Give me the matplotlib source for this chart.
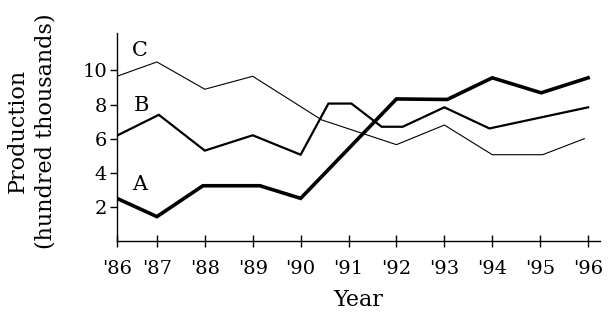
import numpy as np
import matplotlib
matplotlib.use("Agg")
import matplotlib.pyplot as plt

# year axis: '86 .. '96
years = [86, 87, 88, 89, 90, 91, 92, 93, 94, 95, 96]
year_labels = ["'86", "'87", "'88", "'89", "'90", "'91", "'92", "'93", "'94", "'95", "'96"]
y_ticks = [2, 4, 6, 8, 10]

# series (x in years, y in hundred thousands)
a_x = [86, 87, 87.96, 89.15, 90, 92, 93.06, 94, 95.02, 96]
a_y = [2.5, 1.43, 3.24, 3.24, 2.5, 8.33, 8.3, 9.57, 8.69, 9.57]

b_x = [86, 87.04, 88, 89, 90, 90.58, 91.06, 91.69, 92.13, 93, 93.94, 96]
b_y = [6.18, 7.4, 5.3, 6.2, 5.06, 8.06, 8.06, 6.7, 6.7, 7.84, 6.6, 7.84]

c_x = [86, 87, 88, 89, 90.44, 92, 93, 94, 95.05, 95.92]
c_y = [9.66, 10.5, 8.9, 9.66, 7.1, 5.65, 6.8, 5.06, 5.06, 6.0]

serif = "DejaVu Serif"
plt.rcParams["font.family"] = serif

fig = plt.figure(figsize=(6.08, 3.14), dpi=100)
ax = fig.add_axes([0.1924, 0.2325, 0.7946, 0.6625])

# the first year interval is drawn a bit shorter than the others
def fwd(x):
    x = np.asarray(x, dtype=float)
    return np.where(x < 87, 87 - (87 - x) * 40 / 48, x)

def inv(x):
    x = np.asarray(x, dtype=float)
    return np.where(x < 87, 87 - (87 - x) * 48 / 40, x)

ax.set_xscale("function", functions=(fwd, inv))

ax.plot(c_x, c_y, color="black", lw=0.8, solid_joinstyle="miter")
ax.plot(b_x, b_y, color="black", lw=1.6, solid_joinstyle="miter")
ax.plot(a_x, a_y, color="black", lw=2.6, solid_joinstyle="miter")

# series names next to the left ends of the lines
ax.text(86.58, 11.2, "C", fontsize=15, ha="center", va="center")
ax.text(86.62, 7.94, "B", fontsize=15, ha="center", va="center")
ax.text(86.58, 3.3, "A", fontsize=15, ha="center", va="center")

ax.set_xlim(86, 96.25)
ax.set_ylim(0, 12.2)

ax.set_xticks(years)
ax.set_xticklabels(year_labels)
ax.set_yticks(y_ticks)
ax.minorticks_off()

ax.tick_params(axis="x", direction="inout", length=9, width=1, labelsize=14, pad=9)
ax.tick_params(axis="y", direction="out", length=5, width=1, labelsize=14, pad=2)

for side in ["top", "right"]:
    ax.spines[side].set_visible(False)
for side in ["left", "bottom"]:
    ax.spines[side].set_linewidth(1)

ax.set_xlabel("Year", fontsize=16, labelpad=8)
fig.text(0.052, 0.583, "Production\n(hundred thousands)", rotation=90,
         ha="center", va="center", multialignment="center", fontsize=16,
         linespacing=1.35)

fig.savefig("out.png", dpi=100)
